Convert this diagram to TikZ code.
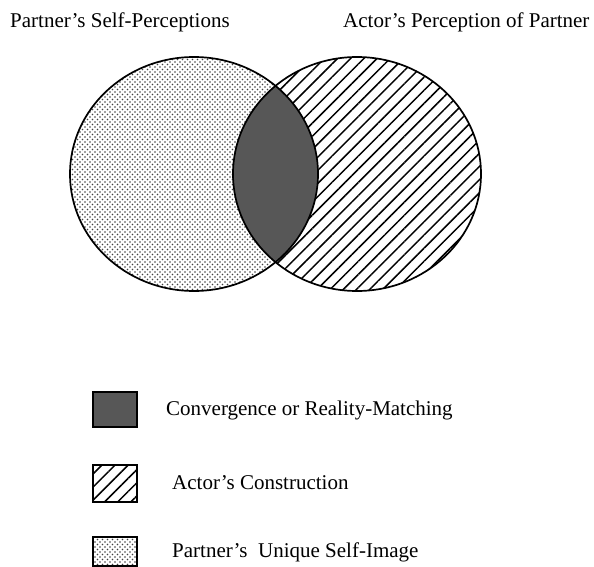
\documentclass[tikz,border=0pt]{standalone}
\usepackage{fontspec}
\setmainfont{Liberation Serif}
\usetikzlibrary{patterns, patterns.meta}

\begin{document}
\begin{tikzpicture}[x=1pt, y=-1pt,
		outline/.style={line width=1.7pt},
		selfimage/.style={pattern={Dots[distance=5pt, radius=0.9pt]}, pattern color=black!75},
		selfimagetoo/.style={pattern={Dots[distance=5pt, radius=0.9pt, xshift=2.5pt, yshift=2.5pt]}, pattern color=black!75},
		construction/.style={pattern={Lines[angle=45, distance=9.3pt, line width=1.5pt]}},
		convergence/.style={fill=black!66},
		label/.style={font=\fontsize{21}{25}\selectfont, anchor=base west, inner sep=0pt}]
		\useasboundingbox (0,0) rectangle (594,567);
		% the two sets
		\coordinate (self) at (194,174);
		\coordinate (actor) at (357,174);
		\fill[selfimage] (self) ellipse [x radius=124, y radius=117];
		\fill[selfimagetoo] (self) ellipse [x radius=124, y radius=117];
		\fill[construction] (actor) ellipse [x radius=124, y radius=117];
		\begin{scope}
			\clip (self) ellipse [x radius=124, y radius=117];
			\fill[convergence] (actor) ellipse [x radius=124, y radius=117];
		\end{scope}
		\draw[outline] (self) ellipse [x radius=124, y radius=117];
		\draw[outline] (actor) ellipse [x radius=124, y radius=117];
		\node[label] (selftitle) at (10,28) {Partner's Self-Perceptions};
		\node[label] (actortitle) at (343,28) {Actor's Perception of Partner};
		% legend
		\draw[outline, convergence] (93,392) rectangle (137,427);
		\draw[construction] (93,465) rectangle (137,502);
		\draw[outline] (93,465) rectangle (137,502);
		\fill[selfimage] (93,537) rectangle (137,566);
		\fill[selfimagetoo] (93,537) rectangle (137,566);
		\draw[outline] (93,537) rectangle (137,566);
		\node[label] (convkey) at (166,415) {Convergence or Reality-Matching};
		\node[label] (constkey) at (172,489) {Actor's Construction};
		\node[label] (uniquekey) at (172,557) {Partner's\ \ Unique Self-Image};
\end{tikzpicture}
\end{document}
